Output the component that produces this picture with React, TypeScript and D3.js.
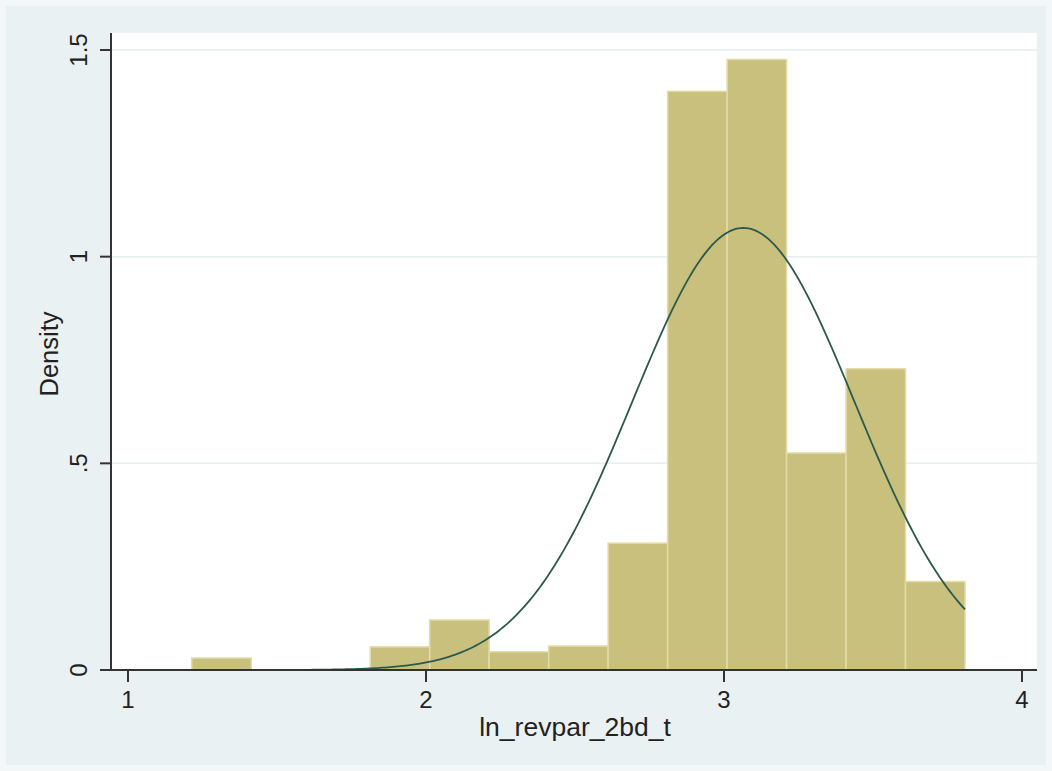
import React from "react";
import * as d3 from "d3";

const binStart = 1.214;
const binWidth = 0.1996;
const densities = [0.029, 0, 0, 0.056, 0.121, 0.044, 0.058, 0.307, 1.40, 1.477, 0.525, 0.729, 0.214];
const xTicks = [1, 2, 3, 4];
const yTicks = [0, 0.5, 1, 1.5];
const yTickLabels = ["0", ".5", "1", "1.5"];
const normalMean = 3.065;
const normalSd = 0.373;
const xLabel = "ln_revpar_2bd_t";
const yLabel = "Density";

const W = 1052;
const H = 771;

export default function App() {
  const x = d3.scaleLinear().domain([1, 4]).range([128, 1022]);
  const y = d3.scaleLinear().domain([0, 1.5]).range([670, 50]);
  const plotL = 111, plotR = 1037, plotT = 33, plotB = 670;
  const font = "'Liberation Sans', Arial, sans-serif";

  const xMin = binStart;
  const xMax = binStart + binWidth * densities.length;
  const pts = d3.range(0, 301).map((i) => xMin + ((xMax - xMin) * i) / 300);
  const pdf = (v: number) =>
    Math.exp(-0.5 * ((v - normalMean) / normalSd) ** 2) / (normalSd * Math.sqrt(2 * Math.PI));
  const line = d3
    .line<number>()
    .x((v) => x(v))
    .y((v) => y(pdf(v)))
    .curve(d3.curveLinear);

  return (
    <svg width={W} height={H} style={{ position: "absolute", left: 0, top: 0 }}>
      <rect x={0} y={0} width={W} height={H} fill="#f3f7f8" />
      <rect x={6} y={6} width={W - 12} height={H - 12} fill="#eaf1f3" />
      <rect x={plotL} y={plotT} width={plotR - plotL} height={plotB - plotT} fill="#ffffff" />
      {yTicks.slice(1).map((t) => (
        <line key={t} x1={plotL} x2={plotR} y1={y(t)} y2={y(t)} stroke="#e6eef0" strokeWidth={1.5} />
      ))}
      {densities.map((dv, i) =>
        dv > 0 ? (
          <rect
            key={i}
            x={x(binStart + i * binWidth)}
            y={y(dv)}
            width={x(binStart + (i + 1) * binWidth) - x(binStart + i * binWidth)}
            height={y(0) - y(dv)}
            fill="#c9c07e"
            stroke="#e3dca6"
            strokeWidth={1.5}
          />
        ) : null
      )}
      <path d={line(pts) || ""} fill="none" stroke="#2b5a4c" strokeWidth={1.8} />
      {/* axes */}
      <line x1={plotL} x2={plotL} y1={plotT} y2={plotB} stroke="#333" strokeWidth={2} />
      <line x1={100} x2={plotR} y1={plotB} y2={plotB} stroke="#333" strokeWidth={2} />
      {yTicks.map((t, i) => (
        <g key={t}>
          <line x1={plotL - 11} x2={plotL} y1={y(t)} y2={y(t)} stroke="#333" strokeWidth={2} />
          <text
            transform={`translate(${plotL - 24},${y(t)}) rotate(-90)`}
            textAnchor="middle"
            fontFamily={font}
            fontSize={24}
            fill="#222"
          >
            {yTickLabels[i]}
          </text>
        </g>
      ))}
      {xTicks.map((t) => (
        <g key={t}>
          <line x1={x(t)} x2={x(t)} y1={plotB} y2={plotB + 12} stroke="#333" strokeWidth={2} />
          <text x={x(t)} y={plotB + 38} textAnchor="middle" fontFamily={font} fontSize={24} fill="#222">
            {t}
          </text>
        </g>
      ))}
      <text x={575} y={736} textAnchor="middle" fontFamily={font} fontSize={26.5} fill="#222">
        {xLabel}
      </text>
      <text
        transform={`translate(58,354) rotate(-90)`}
        textAnchor="middle"
        fontFamily={font}
        fontSize={25.5}
        fill="#222"
      >
        {yLabel}
      </text>
    </svg>
  );
}
